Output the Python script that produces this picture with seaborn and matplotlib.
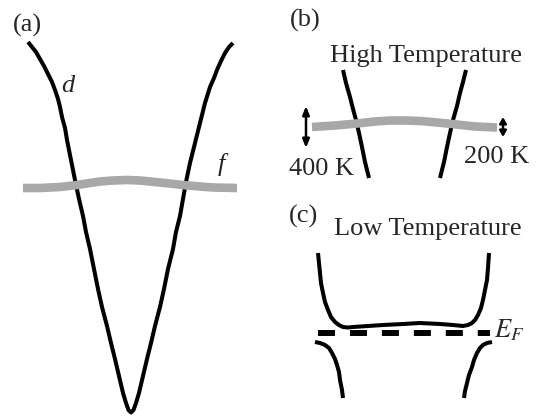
import numpy as np
import pandas as pd
import seaborn as sns
import matplotlib.pyplot as plt

sns.set_style('white')
plt.rcParams['font.family'] = ['Liberation Serif', 'DejaVu Serif']
plt.rcParams['mathtext.fontset'] = 'stix'

# schematic bands (pixel units, y down)
# (a) wide d band and flat f band
d_k = [28, 32, 36, 40, 44, 48, 52, 55, 58, 60, 62, 65, 67, 71, 75, 79, 83, 86, 90,
       94, 98, 102, 107, 111, 115, 119, 123, 126, 128.5, 131,
       133.5, 136, 139, 143, 147, 151, 155, 160, 164, 168, 173, 176, 180, 183,
       186, 190, 195, 200, 205, 210, 214, 217, 221, 225, 229, 233]
d_E = [42, 47, 52, 59, 66, 74, 82, 90, 99, 107, 117, 128, 140, 160, 180, 199, 216, 232, 249,
       269, 289, 307, 326, 343, 359, 376, 393, 403, 410, 412.5,
       410, 403, 393, 376, 359, 343, 326, 307, 289, 269, 249, 232, 216, 199,
       182, 163, 143, 123, 103, 87, 78, 70, 61, 53, 47, 43]
f_k = [23, 40, 60, 77, 90, 100, 113, 127, 140, 150, 165, 183, 200, 213, 237]
f_E = [188, 188, 187, 185, 183, 181.5, 180.5, 180, 180.5, 181.5, 183, 185, 186.5, 187.5, 188]

# (b) high temperature
dl_k = [343, 346, 350, 353, 356, 359, 362, 365, 369]
dl_E = [70, 83, 97, 109, 120, 133, 147, 162, 178]
dr_k = [466, 463, 460, 457, 453, 450, 447, 444, 440]
dr_E = [70, 82, 93, 106, 120, 133, 147, 162, 178]
fb_k = [312, 335, 357, 375, 390, 405, 420, 437, 452, 475, 497]
fb_E = [127, 125.5, 123.5, 121.5, 120.5, 120.5, 121, 122.5, 124, 126.5, 127.5]
broad_400 = (106, 148)
broad_200 = (117, 137)

# (c) low temperature, hybridised bands and Fermi level
up_k = [318, 319, 320, 321, 323, 325, 328, 331, 335, 339, 343, 348, 353, 368, 383, 403,
        420, 440, 453, 463, 468, 472, 475, 478, 481, 483, 485, 487, 488, 489]
up_E = [253, 263, 273, 283, 293, 302, 310, 317, 322, 325, 327, 327.5, 327, 326, 325, 324,
        323, 324, 325, 326, 325, 323, 320, 315, 308, 300, 290, 280, 268, 253]
lol_k = [315, 320, 325, 329, 332, 335, 337, 339, 340, 342, 343]
lol_E = [342, 343, 345, 348, 353, 359, 365, 372, 380, 390, 398]
lor_k = [492, 487, 483, 480, 477, 474, 472, 469, 467, 465, 464]
lor_E = [342, 343, 345, 348, 353, 360, 367, 375, 383, 391, 398]
ef_k = [318, 490]
ef_E = [333, 333]

fig = plt.figure(figsize=(5.41, 4.16), dpi=100)
ax = fig.add_axes([0, 0, 1, 1])

def band(k, E, color='black', lw=2.9, **kw):
    sns.lineplot(x=k, y=E, sort=False, estimator=None, color=color, lw=lw,
                 solid_capstyle='butt', solid_joinstyle='round', ax=ax, **kw)

grey = '#a8a8a8'
band(d_k, d_E)
band(f_k, f_E, color=grey, lw=6.2)
band(dl_k, dl_E)
band(dr_k, dr_E)
band(fb_k, fb_E, color=grey, lw=6.2)
band(up_k, up_E)
band(lol_k, lol_E)
band(lor_k, lor_E)
band(ef_k, ef_E, lw=4.3, linestyle=(0, (2.85, 2.5)))

arr = dict(arrowstyle='<|-|>,head_length=0.5,head_width=0.2', color='black', lw=1.8,
           shrinkA=0, shrinkB=0)
arr_small = dict(arrowstyle='<|-|>,head_length=0.35,head_width=0.2', color='black', lw=1.8,
                 shrinkA=0, shrinkB=0)
ax.annotate('', xy=(306, broad_400[0]), xytext=(306, broad_400[1]), arrowprops=arr)
ax.annotate('', xy=(503, broad_200[0]), xytext=(503, broad_200[1]), arrowprops=arr_small)

fs = 19
ax.text(13, 32, '(a)', fontsize=fs, ha='left', va='baseline')
ax.text(290, 27, '(b)', fontsize=fs, ha='left', va='baseline')
ax.text(289, 223, '(c)', fontsize=fs, ha='left', va='baseline')
ax.text(426, 62, 'High Temperature', fontsize=fs, ha='center', va='baseline')
ax.text(428, 235, 'Low Temperature', fontsize=fs, ha='center', va='baseline')
ax.text(322, 175, '400 K', fontsize=fs, ha='center', va='baseline')
ax.text(497, 163, '200 K', fontsize=fs, ha='center', va='baseline')
ax.text(68, 92, 'd', fontsize=fs, style='italic', ha='center', va='baseline')
ax.text(221, 171, 'f', fontsize=fs, style='italic', ha='center', va='baseline')
ax.text(494, 337, '$E_F$', fontsize=fs, ha='left', va='baseline')

ax.set_xlim(0, 541)
ax.set_ylim(416, 0)
ax.axis('off')
fig.savefig('out.png', dpi=100)
